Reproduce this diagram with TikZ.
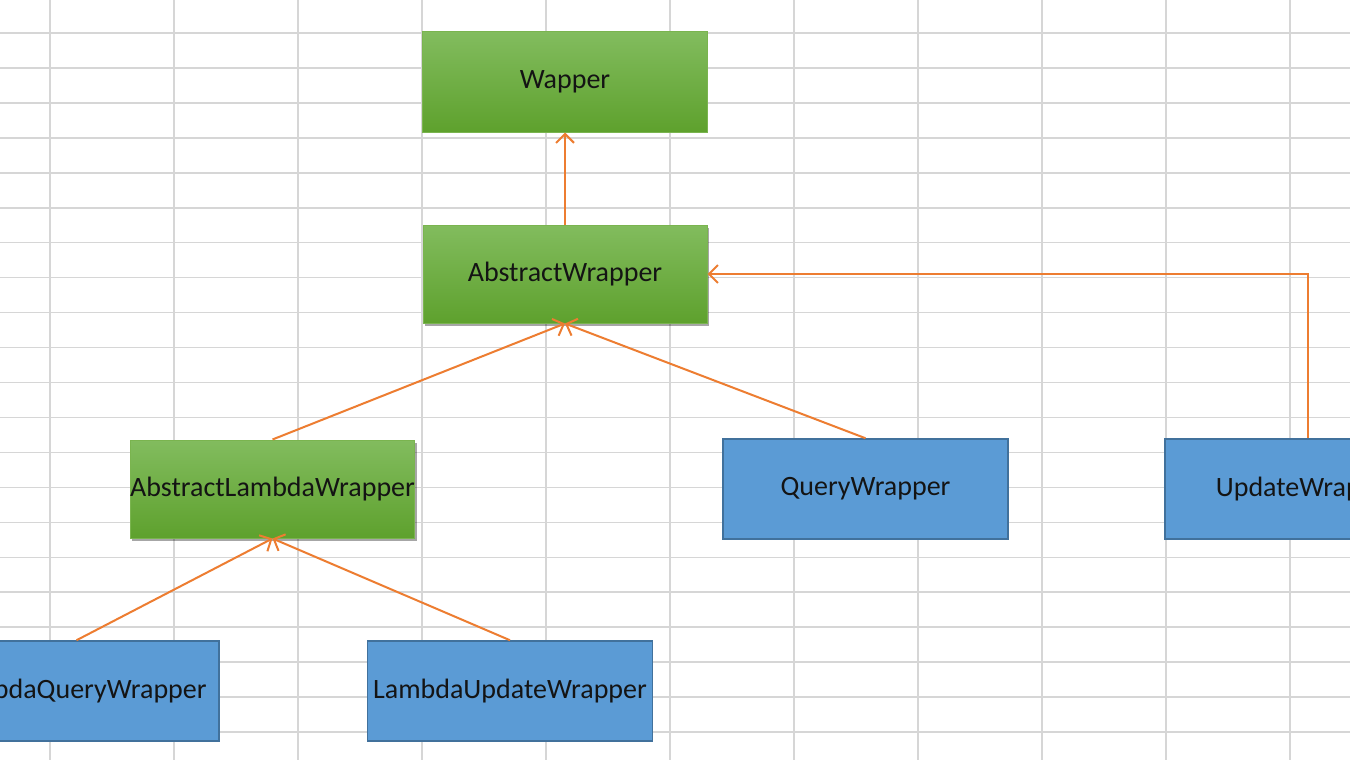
\documentclass[tikz,border=0pt]{standalone}
\usepackage{fontspec}
\setmainfont{Carlito}
\usetikzlibrary{arrows.meta,shadows}
\definecolor{gridc}{HTML}{D6D6D6}
\definecolor{orangec}{HTML}{ED7D31}
\definecolor{bluefill}{HTML}{5B9BD5}
\definecolor{blueline}{HTML}{41719C}
\definecolor{greentop}{HTML}{82BC5E}
\definecolor{greenbot}{HTML}{5EA12D}
\definecolor{greenline}{HTML}{7AB44F}
\definecolor{txt}{HTML}{141414}
\tikzset{
  box/.style={rectangle, inner sep=0pt, minimum width=285pt, minimum height=100pt, font=\fontsize{28}{32}\selectfont, text=txt},
  greenbox/.style={box, top color=greentop, bottom color=greenbot, draw=greenline, line width=1pt},
  greenshadow/.style={greenbox, drop shadow={shadow xshift=2pt, shadow yshift=-3pt, opacity=0.35, fill=black}},
  bluebox/.style={box, fill=bluefill, draw=blueline, line width=1.5pt},
  conn/.style={draw=orangec, line width=2pt, -{Straight Barb[length=9pt,width=18pt,line width=2pt]}},
  gridline/.style={draw=gridc, line width=1.5pt}
}
\begin{document}
\begin{tikzpicture}[x=1pt,y=-1pt]
\useasboundingbox (0,0) rectangle (1350,760);
\clip (0,0) rectangle (1350,760);
\fill[white] (0,0) rectangle (1350,760);
% grid
\foreach \i in {0,...,10} {
  \draw[gridline] ({50+124*\i},0) -- ({50+124*\i},760);
}
\foreach \j in {0,...,20} {
  \draw[gridline] (0,{33+34.95*\j}) -- (1350,{33+34.95*\j});
}
% nodes
\node[greenbox] (wap) at (565,82) {Wapper};
\node[greenshadow, minimum width=284pt, minimum height=98pt] (aw) at (565,274) {AbstractWrapper};
\node[greenshadow, minimum width=283pt, minimum height=98pt] (alw) at (272.5,489) {AbstractLambdaWrapper};
\node[bluebox] (qw) at (865.5,489) {QueryWrapper};
\node[bluebox] (uw) at (1307.5,489) {UpdateWrapper};
\node[bluebox] (lqw) at (76.5,691) {LambdaQueryWrapper};
\node[bluebox] (luw) at (510,691) {LambdaUpdateWrapper};
% connectors
\draw[conn] (aw.north) -- (wap.south);
\draw[conn] (alw.north) -- (aw.south);
\draw[conn] (qw.north) -- (aw.south);
\draw[conn] (uw.north) |- (aw.east);
\draw[conn] (lqw.north) -- (alw.south);
\draw[conn] (luw.north) -- (alw.south);
\end{tikzpicture}
\end{document}
